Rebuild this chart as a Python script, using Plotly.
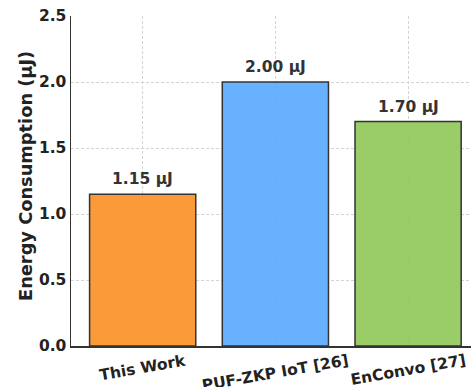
import plotly.graph_objects as go

categories = ["This Work", "PUF-ZKP IoT [26]", "EnConvo [27]"]
energy_uj = [1.15, 2.00, 1.70]
bar_colors = ["rgba(250,145,40,0.92)", "rgba(90,170,255,0.92)", "rgba(145,200,90,0.92)"]
y_ticks = [0.0, 0.5, 1.0, 1.5, 2.0, 2.5]

font_family = "DejaVu Sans, sans-serif"
FS = 15.5

fig = go.Figure()
fig.add_trace(go.Bar(
    x=list(range(len(categories))),
    y=energy_uj,
    width=0.8,
    marker=dict(color=bar_colors, line=dict(color="#333333", width=1.5)),
    showlegend=False,
    hoverinfo="skip",
))

for i, v in enumerate(energy_uj):
    fig.add_annotation(
        x=i, y=v, text=f"<b>{v:.2f} μJ</b>", showarrow=False,
        yanchor="bottom", yshift=4,
        font=dict(family=font_family, size=FS, color="#333333"),
    )

# rotated category labels, centred under each bar
for i, c in enumerate(categories):
    fig.add_annotation(
        x=i, xref="x", y=0, yref="paper", text=f"<b>{c}</b>", showarrow=False,
        textangle=-10, xanchor="center", yanchor="top", yshift=-3,
        font=dict(family=font_family, size=FS, color="#222222"),
    )

# y-axis title
fig.add_annotation(
    x=0, xref="paper", y=0.5, yref="paper", xshift=-46, yshift=5,
    text="<b>Energy Consumption (μJ)</b>", showarrow=False, textangle=-90,
    xanchor="center", yanchor="middle",
    font=dict(family=font_family, size=17.8, color="#222222"),
)

fig.update_layout(
    width=471, height=387,
    margin=dict(l=71, r=0, t=16, b=41, autoexpand=False),
    plot_bgcolor="white", paper_bgcolor="white",
    font=dict(family=font_family, color="#222222"),
)
fig.update_xaxes(
    range=[-0.54, 2.474],
    tickmode="array",
    tickvals=list(range(len(categories))),
    showticklabels=False,
    showline=True, linecolor="#333333", linewidth=1.5,
    ticks="",
    showgrid=True, gridcolor="#d4d4d4", griddash="3px,2px", gridwidth=1,
    zeroline=False, automargin=False,
)
fig.update_yaxes(
    range=[0, 2.5],
    tickmode="array",
    tickvals=y_ticks,
    ticktext=[f"<b>{t:.1f}</b>" for t in y_ticks],
    tickfont=dict(size=FS, color="#222222"),
    showline=True, linecolor="#333333", linewidth=1.5,
    ticks="",
    showgrid=True, gridcolor="#d4d4d4", griddash="3px,2px", gridwidth=1,
    zeroline=False, automargin=False,
)

fig.write_html(
    "out.html",
    config={"displayModeBar": False, "staticPlot": True},
    post_script="document.body.style.margin='0';document.body.style.overflow='hidden';",
)
